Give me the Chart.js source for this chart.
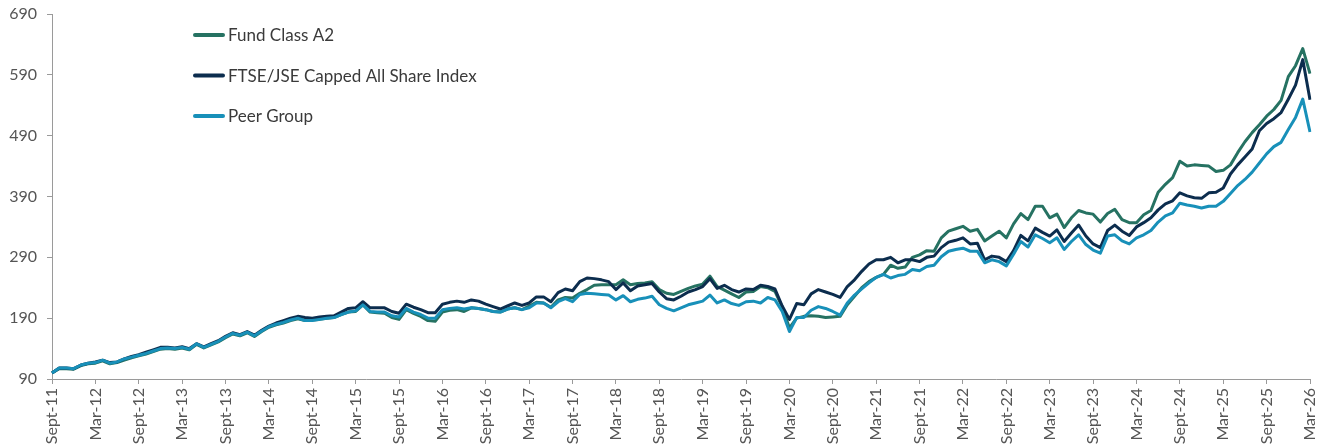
<!DOCTYPE html>
<html>
<head>
<meta charset="utf-8">
<script src="https://cdn.jsdelivr.net/npm/chart.js@4.4.1/dist/chart.umd.min.js"></script>
<style>
html,body{margin:0;padding:0;background:#fff;}
#wrap{width:1332px;height:444px;position:relative;}
</style>
</head>
<body>
<div id="wrap"><canvas id="c" width="1332" height="444"></canvas></div>
<script>
// Categories: monthly, Sept-11 .. Mar-26
const monthNames = ['Jan','Feb','Mar','Apr','May','Jun','Jul','Aug','Sept','Oct','Nov','Dec'];
const startYear = 2011, startMonth = 8, monthCount = 175;
const categories = [];
for (let i = 0; i < monthCount; i++) {
  const m = (startMonth + i) % 12;
  const y = startYear + Math.floor((startMonth + i) / 12);
  categories.push(monthNames[m] + '-' + String(y).slice(2));
}

const seriesNames = ['Fund Class A2', 'FTSE/JSE Capped All Share Index', 'Peer Group'];

const fundValues = [
  100,107,107,106,112,115, 116,120,115,117,121,125,
  128,131,135,139,140,139, 141,138,147,141,146,151,
  158,164,161,166,160,168, 175,179,182,186,189,186,
  187,188,190,191,196,200, 201,212,200,199,198,191,
  188,204,198,193,186,185, 200,203,204,201,207,206,
  204,201,200,205,207,204, 210,216,215,208,220,224,
  223,231,237,244,245,245, 245,253,245,247,248,250,
  237,231,229,234,239,243, 246,259,242,236,230,224,
  233,234,242,240,234,208, 174,190,193,194,193,191,
  192,193,212,226,240,250, 257,262,277,272,274,290,
  294,301,300,322,333,337, 341,333,336,317,325,333,
  322,345,362,352,374,374, 355,361,339,355,367,363,
  361,348,362,369,352,347, 347,360,367,397,410,421,
  448,440,442,441,440,431, 433,442,462,480,495,508,
  522,533,548,587,605,633, 592
];

const indexValues = [
  100,108,108,107,113,116, 118,121,117,118,123,127,
  130,134,138,142,142,141, 143,140,148,143,148,153,
  160,166,163,168,162,170, 177,182,186,190,193,191,
  190,192,193,194,200,206, 207,217,207,207,207,201,
  198,213,208,204,199,199, 213,216,218,216,220,218,
  213,209,205,210,215,211, 215,225,225,217,232,238,
  235,250,256,255,253,250, 237,248,235,243,245,247,
  233,222,220,226,233,237, 242,255,239,244,237,233,
  238,237,244,242,238,210, 188,214,212,230,237,233,
  229,224,242,253,267,279, 286,286,290,281,286,286,
  283,290,292,306,315,318, 322,312,313,286,292,290,
  283,301,326,317,338,331, 325,335,316,330,343,325,
  312,306,334,343,333,326, 340,347,355,368,378,383,
  396,391,388,387,396,397, 404,427,442,455,468,498,
  510,518,528,550,573,615, 549
];

const peerValues = [
  100,108,108,107,113,116, 117,121,116,118,123,126,
  129,132,136,140,141,140, 142,139,148,142,147,152,
  159,165,162,167,161,169, 176,180,183,187,190,186,
  186,188,190,191,196,200, 202,212,201,200,200,194,
  192,206,200,196,190,190, 204,206,207,205,207,206,
  204,201,200,205,207,204, 207,215,215,207,217,222,
  217,229,231,230,229,228, 220,227,217,221,223,226,
  212,206,202,207,212,215, 218,228,215,220,214,211,
  217,218,215,224,220,201, 168,191,191,203,209,206,
  201,195,215,228,238,248, 257,262,256,260,262,270,
  268,275,277,291,300,303, 305,300,300,281,286,283,
  276,295,316,307,327,321, 314,322,303,316,327,311,
  302,297,325,327,317,312, 322,327,334,348,358,363,
  379,376,374,371,374,374, 382,395,408,418,430,445,
  460,472,479,500,520,550, 496
];

const yTicks = [90, 190, 290, 390, 490, 590, 690];

const colors = ['#267262', '#0c2d4e', '#1890b9'];
const tickFont = { family: 'Lato, "Open Sans", sans-serif', size: 16 };

const legendPlugin = {
  id: 'customLegend',
  afterDraw(chart) {
    const ctx = chart.ctx;
    const ca = chart.chartArea;
    const x0 = ca.left + 143;
    const y0 = ca.top + 21;
    const gap = 40.5;
    ctx.save();
    chart.data.datasets.forEach((ds, i) => {
      const y = y0 + i * gap;
      ctx.strokeStyle = ds.borderColor;
      ctx.lineWidth = 4;
      ctx.lineCap = 'round';
      ctx.beginPath();
      ctx.moveTo(x0, y);
      ctx.lineTo(x0 + 28, y);
      ctx.stroke();
      ctx.fillStyle = '#3a3a3a';
      ctx.font = '17px Lato, "Open Sans", sans-serif';
      ctx.textBaseline = 'middle';
      ctx.textAlign = 'left';
      ctx.fillText(ds.label, x0 + 33, y + 1);
    });
    ctx.restore();
  }
};

new Chart(document.getElementById('c'), {
  type: 'line',
  data: {
    labels: categories,
    datasets: [
      { label: seriesNames[0], data: fundValues, borderColor: colors[0], backgroundColor: colors[0], order: 2 },
      { label: seriesNames[1], data: indexValues, borderColor: colors[1], backgroundColor: colors[1], order: 1 },
      { label: seriesNames[2], data: peerValues, borderColor: colors[2], backgroundColor: colors[2], order: 0 }
    ]
  },
  options: {
    responsive: false,
    animation: false,
    devicePixelRatio: 1,
    layout: { padding: { top: 14, right: 22, left: 0, bottom: 0 } },
    elements: {
      point: { radius: 0, hoverRadius: 0 },
      line: { borderWidth: 3, tension: 0, borderJoinStyle: 'round' }
    },
    plugins: { legend: { display: false }, tooltip: { enabled: false } },
    scales: {
      x: {
        type: 'category',
        offset: false,
        grid: { display: true, drawOnChartArea: false, drawTicks: true, tickLength: 5, color: '#9a9a9a' },
        border: { display: true, color: '#9a9a9a', width: 1 },
        ticks: {
          autoSkip: false, maxRotation: 90, minRotation: 90, padding: 4,
          color: '#555555', font: tickFont
        },
        afterBuildTicks(scale) {
          scale.ticks = scale.ticks.filter((t, i) => i % 6 === 0);
        },
        afterFit(scale) {
          scale.height = 65;
          scale.paddingLeft = 0; scale.paddingRight = 0;
        }
      },
      y: {
        min: yTicks[0], max: yTicks[yTicks.length - 1],
        grid: { display: true, drawOnChartArea: false, drawTicks: true, tickLength: 5, color: '#9a9a9a' },
        border: { display: true, color: '#9a9a9a', width: 1 },
        ticks: { stepSize: 100, padding: 10, color: '#555555', font: tickFont },
        afterBuildTicks(scale) {
          scale.ticks = yTicks.map(v => ({ value: v }));
        },
        afterFit(scale) {
          scale.width = 52;
          scale.paddingTop = 0; scale.paddingBottom = 0;
        }
      }
    }
  },
  plugins: [legendPlugin]
});
</script>
</body>
</html>
